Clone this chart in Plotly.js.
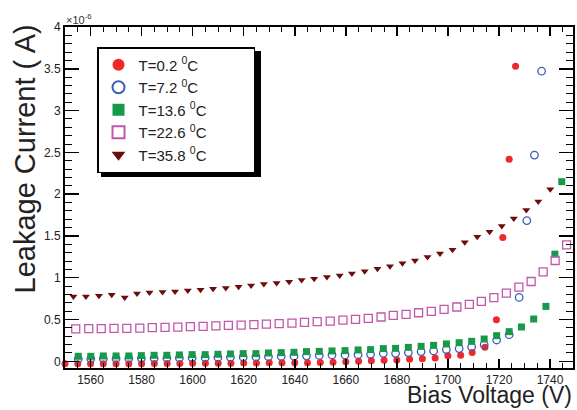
<!DOCTYPE html>
<html>
<head>
<meta charset="utf-8">
<script src="https://cdn.plot.ly/plotly-3.0.1.min.js"></script>
<style>html,body{margin:0;padding:0;background:#fff;}#chart{width:577px;height:410px;}</style>
</head>
<body>
<div id="chart"></div>
<script>
// Bias voltage (V) and leakage current (units of 1e-6 A)
const seriesNames = ["T=0.2 <sup>0</sup>C", "T=7.2 <sup>0</sup>C", "T=13.6 <sup>0</sup>C", "T=22.6 <sup>0</sup>C", "T=35.8 <sup>0</sup>C"];

const vT02 = [1550,1555,1560,1565,1570,1575,1580,1585,1590,1595,1600,1605,1610,1615,1620,1625,1630,1635,1640,1645,1650,1655,1660,1665,1670,1675,1680,1685,1690,1695,1700,1705,1709.5,1714.5,1719,1721.5,1724,1726.5];
const iT02 = [-0.030,-0.030,-0.030,-0.030,-0.028,-0.028,-0.028,-0.026,-0.026,-0.026,-0.024,-0.024,-0.022,-0.022,-0.020,-0.020,-0.018,-0.018,-0.016,-0.016,-0.014,-0.012,-0.004,0.000,0.008,0.012,0.016,0.024,0.032,0.040,0.068,0.072,0.105,0.167,0.496,1.481,2.417,3.531];

const vT72 = [1555.2,1560.1,1565.0,1570.0,1575.0,1579.9,1584.9,1589.9,1594.8,1599.8,1604.9,1609.9,1614.8,1619.8,1624.8,1629.7,1634.7,1639.7,1644.6,1649.6,1654.6,1659.7,1664.8,1669.7,1674.7,1679.5,1684.5,1689.5,1694.4,1699.4,1704.4,1709.3,1714.2,1719.1,1724.0,1727.9,1730.9,1733.9,1736.7];
const iT72 = [0.030,0.030,0.032,0.032,0.034,0.036,0.036,0.038,0.040,0.042,0.044,0.046,0.048,0.050,0.053,0.056,0.059,0.062,0.066,0.070,0.076,0.076,0.080,0.084,0.096,0.096,0.104,0.116,0.124,0.140,0.152,0.172,0.199,0.255,0.319,0.764,1.684,2.468,3.471];

const vT136 = [1555.2,1560.1,1565.0,1570.0,1575.0,1579.9,1584.9,1589.9,1594.8,1599.8,1604.9,1609.9,1614.8,1619.8,1624.8,1629.7,1634.7,1639.7,1644.6,1649.6,1654.6,1659.7,1664.8,1669.7,1674.7,1679.5,1684.5,1689.5,1694.4,1699.4,1704.4,1709.3,1714.2,1719.1,1724.0,1728.8,1733.6,1738.4,1741.9,1744.6];
const iT136 = [0.060,0.060,0.064,0.064,0.064,0.068,0.072,0.072,0.076,0.080,0.080,0.084,0.088,0.092,0.092,0.100,0.104,0.108,0.116,0.119,0.124,0.128,0.136,0.140,0.152,0.155,0.167,0.179,0.191,0.208,0.223,0.239,0.267,0.307,0.355,0.411,0.506,0.657,1.282,2.149];

const vT226 = [1554.2,1559.3,1564.2,1569.2,1574.2,1579.3,1584.2,1589.2,1594.2,1599.1,1604.1,1609.1,1614.0,1619.0,1624.0,1628.9,1633.9,1638.9,1643.8,1648.8,1653.9,1658.9,1663.8,1668.8,1673.8,1678.6,1683.6,1688.5,1693.5,1698.5,1703.5,1708.4,1713.1,1718.0,1722.9,1727.8,1732.6,1737.3,1742.0,1746.5];
const iT226 = [0.387,0.390,0.390,0.394,0.394,0.398,0.402,0.406,0.410,0.414,0.418,0.424,0.430,0.434,0.438,0.446,0.450,0.458,0.466,0.474,0.482,0.494,0.502,0.513,0.530,0.549,0.561,0.581,0.597,0.621,0.650,0.681,0.716,0.761,0.817,0.888,0.955,1.071,1.206,1.393];

const vT358 = [1553.3,1558.2,1563.3,1568.3,1573.4,1578.2,1583.1,1588.2,1593.1,1598.1,1603.1,1608.0,1613.0,1618.0,1622.9,1627.9,1632.9,1637.8,1642.7,1647.6,1652.6,1657.6,1662.4,1667.4,1672.4,1677.3,1682.2,1687.1,1692.0,1696.9,1701.8,1706.6,1711.5,1716.3,1721.1,1725.8,1730.7,1735.4,1740.1];
const iT358 = [0.776,0.776,0.784,0.796,0.764,0.812,0.824,0.828,0.836,0.848,0.856,0.868,0.876,0.892,0.907,0.924,0.936,0.952,0.972,0.987,1.008,1.027,1.051,1.079,1.109,1.137,1.172,1.206,1.248,1.290,1.336,1.425,1.491,1.550,1.620,1.710,1.810,1.911,2.058];

const xRange = [1550, 1749];
const yRange = [-0.08, 4.0];

const FONT = "Liberation Sans, Arial, Helvetica, sans-serif";
// legend box in the reference is wider than its text: pad with non-breaking spaces
const PAD = "\u00a0".repeat(10);

const traces = [
  {x: vT02, y: iT02, name: seriesNames[0] + PAD, mode: "markers", cliponaxis: false,
   marker: {symbol: "circle", size: 7, color: "#f02828"}},
  {x: vT72, y: iT72, name: seriesNames[1] + PAD, mode: "markers", cliponaxis: false,
   marker: {symbol: "circle-open", size: 7.5, color: "#3c5cbf", line: {width: 1.3, color: "#3c5cbf"}}},
  {x: vT136, y: iT136, name: seriesNames[2] + PAD, mode: "markers", cliponaxis: false,
   marker: {symbol: "square", size: 7, color: "#17994a"}},
  {x: vT226, y: iT226, name: seriesNames[3] + PAD, mode: "markers", cliponaxis: false,
   marker: {symbol: "square-open", size: 8, color: "#c257a9", line: {width: 1.3, color: "#c257a9"}}},
  {x: vT358, y: iT358, name: seriesNames[4] + PAD, mode: "markers", cliponaxis: false,
   marker: {symbol: "triangle-down", size: 7, color: "#6b0d0d"}},
  // empty trace that carries the mirrored (top/right) tick axes
  {x: [], y: [], xaxis: "x2", yaxis: "y2", mode: "markers", showlegend: false, hoverinfo: "skip"}
];

const L = 65, R = 4, T = 27, B = 42;
const W = 577, H = 410;
const pw = W - L - R, ph = H - T - B;
function px2x(px){ return (px - L) / pw; }
function py2y(py){ return (H - B - py) / ph; }

const tickStyle = {ticks: "inside", tickwidth: 1.5, tickcolor: "#000", showgrid: false, zeroline: false};

const layout = {
  width: W, height: H,
  margin: {l: L, r: R, t: T, b: B, pad: 0},
  paper_bgcolor: "#ffffff", plot_bgcolor: "#ffffff",
  font: {family: FONT, color: "#222"},
  showlegend: true,
  legend: {
    x: px2x(97), xanchor: "left", y: py2y(47), yanchor: "top",
    bgcolor: "#ffffff", bordercolor: "#000", borderwidth: 1.5,
    font: {family: FONT, size: 15, color: "#222"},
    tracegroupgap: 0, itemsizing: "constant"
  },
  xaxis: Object.assign({}, tickStyle, {
    range: xRange, dtick: 20, tick0: 1560, ticklen: 9,
    showline: true, linewidth: 2, linecolor: "#000", mirror: true,
    minor: {ticks: "inside", dtick: 5, ticklen: 5, tickwidth: 1, tickcolor: "#000", showgrid: false},
    tickfont: {family: FONT, size: 12, color: "#222"}
  }),
  yaxis: Object.assign({}, tickStyle, {
    range: yRange, dtick: 0.5, tick0: 0, ticklen: 14,
    showline: true, linewidth: 2, linecolor: "#000", mirror: true,
    minor: {ticks: "inside", dtick: 0.1, ticklen: 7, tickwidth: 1, tickcolor: "#000", showgrid: false},
    tickfont: {family: FONT, size: 12, color: "#222"}
  }),
  xaxis2: Object.assign({}, tickStyle, {
    range: xRange, dtick: 20, tick0: 1560, ticklen: 9, overlaying: "x", side: "top", anchor: "y2",
    showticklabels: false, showline: false,
    minor: {ticks: "inside", dtick: 5, ticklen: 5, tickwidth: 1, tickcolor: "#000", showgrid: false}
  }),
  yaxis2: Object.assign({}, tickStyle, {
    range: yRange, dtick: 0.5, tick0: 0, ticklen: 14, overlaying: "y", side: "right", anchor: "x2",
    showticklabels: false, showline: false,
    minor: {ticks: "inside", dtick: 0.1, ticklen: 7, tickwidth: 1, tickcolor: "#000", showgrid: false}
  }),
  shapes: [
    {type: "rect", xref: "paper", yref: "paper", layer: "above",
     x0: px2x(101), x1: px2x(261), y0: py2y(177), y1: py2y(51),
     fillcolor: "#000", line: {width: 0}}
  ],
  annotations: [
    {text: "×10<sup>-6</sup>", xref: "paper", yref: "paper", x: px2x(64), y: py2y(10),
     xanchor: "left", yanchor: "top", showarrow: false, font: {family: FONT, size: 11, color: "#333"}},
    {text: "Leakage Current ( A)", xref: "paper", yref: "paper", x: px2x(24), y: py2y(23),
     xanchor: "center", yanchor: "top", textangle: -90, showarrow: false,
     font: {family: FONT, size: 29, color: "#222"}},
    {text: "Bias Voltage (V)", xref: "paper", yref: "paper", x: px2x(574), y: py2y(410),
     xanchor: "right", yanchor: "bottom", showarrow: false,
     font: {family: FONT, size: 23, color: "#222"}}
  ]
};

Plotly.newPlot("chart", traces, layout, {displayModeBar: false, staticPlot: true});
</script>
</body>
</html>
